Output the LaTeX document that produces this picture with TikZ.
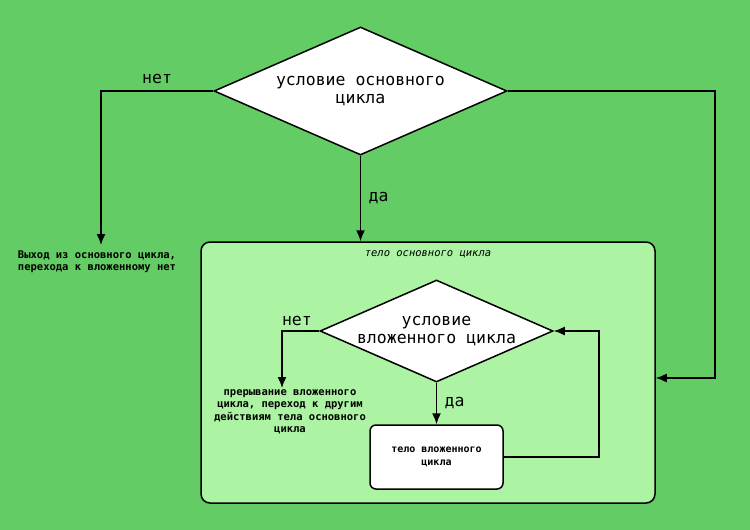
\documentclass[tikz,border=0pt]{standalone}
\usepackage{fontspec}
\setmonofont{DejaVu Sans Mono}
\usetikzlibrary{shapes.geometric}
\usetikzlibrary{arrows.meta}
\definecolor{bggreen}{RGB}{100,204,100}
\definecolor{boxgreen}{RGB}{172,244,164}
\tikzset{
    decision/.style={shape=diamond, draw=black, fill=white, line width=1.5pt, inner sep=-8pt, aspect=2.3, align=center, font=\ttfamily\fontsize{16.5}{18}\selectfont},
    block/.style={shape=rectangle, draw=black, line width=1.5pt, rounded corners=6pt},
    note/.style={align=center, font=\ttfamily\bfseries\fontsize{10.5}{12.5}\selectfont},
    answer/.style={font=\ttfamily\fontsize{16.5}{18}\selectfont},
    flow/.style={->, >={Latex[length=11pt,width=9pt]}, line width=1.5pt}}

\begin{document}
\begin{tikzpicture}[x=1pt, y=-1pt]

        \fill[bggreen] (0,0) rectangle (750,530);
        \useasboundingbox (0,0) rectangle (750,530);

            % outer loop
            \node[block, fill=boxgreen, rounded corners=9pt, minimum width=454pt, minimum height=261pt] (body) at (428,372.5) {};
            \node[font=\ttfamily\itshape\fontsize{10.5}{12}\selectfont] (bodytitle) at (428,254) {тело основного цикла};
            \node[decision, minimum width=293pt, minimum height=128pt] (A) at (360.5,91) {условие основного\\цикла};
            \node[note, align=left] (exit) at (97,262) {Выход из основного цикла,\\перехода к вложенному нет};
            \coordinate (e1) at (101,245);
            \coordinate (r1) at (715,378);

            % nested loop
            \node[decision, minimum width=233pt, minimum height=102pt] (B) at (436.5,331) {условие\\вложенного цикла};
            \node[block, fill=white, minimum width=133pt, minimum height=64pt, note, font=\ttfamily\bfseries\fontsize{10}{13}\selectfont] (inbody) at (436.5,457) {тело вложенного\\цикла};
            \node[note] (brk) at (290,412) {прерывание вложенного\\цикла, переход к другим\\действиям тела основного\\цикла};
            \coordinate (e2) at (282,388);

            \draw[flow] (A.west) -| (e1) node[pos=0.25, above=3pt, answer] {нет};
            \draw[flow] (A.south) -- (A.south |- body.north) node[midway, right=4pt, answer] {да};
            \draw[flow] (A.east) -| (r1) -- (r1 -| body.east);

            \draw[flow] (B.west) -| (e2) node[pos=0.3, above=1pt, answer] {нет};
            \draw[flow] (B.south) -- (inbody.north) node[midway, right=4pt, answer] {да};
            \draw[flow] (inbody.east) -- ++(95,0) |- (B.east);

        \end{tikzpicture}
\end{document}
